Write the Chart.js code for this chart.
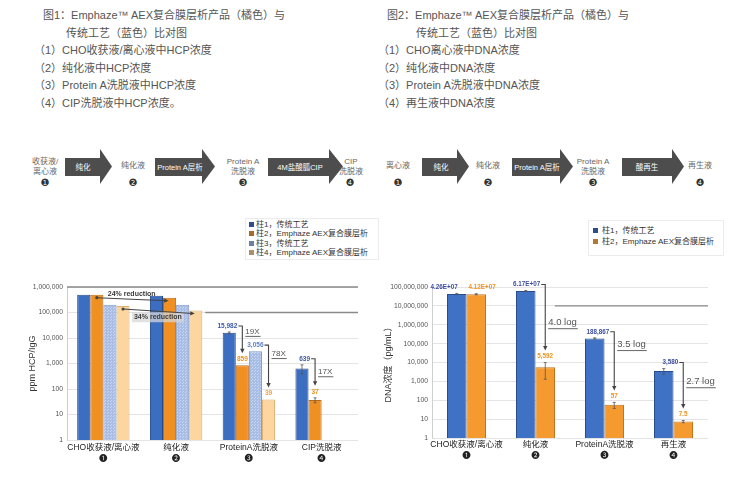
<!DOCTYPE html>
<html>
<head>
<meta charset="utf-8">
<script src="https://cdn.jsdelivr.net/npm/chart.js@4.4.1/dist/chart.umd.min.js"></script>
<style>
  body { margin: 0; width: 748px; height: 477px; background: #fff; position: relative; overflow: hidden;
         font-family: "Liberation Sans", "Noto Sans CJK SC", sans-serif; }
  .hd { position: absolute; white-space: nowrap; color: #555; font-size: 11px; line-height: 17px; }
  .fl { position: absolute; white-space: nowrap; color: #666; font-size: 8px; line-height: 10px;
        text-align: center; transform: translateX(-50%); }
  .num { position: absolute; color: #333; font-size: 10px; line-height: 12px; transform: translateX(-50%);
         font-family: "DejaVu Sans", sans-serif; }
  .legend { position: absolute; border: 1px solid #ececec; background: #fff; font-size: 8px; color: #333; }
  .legend div { white-space: nowrap; position: relative; padding-left: 7px; }
  .legend span { position: absolute; left: 0; top: 50%; width: 5px; height: 5px; margin-top: -2.5px; }
  .box { position: absolute; }
</style>
</head>
<body>

<div class="hd" style="left:43px;top:7px">图1：Emphaze™ AEX复合膜层析产品（橘色）与</div>
<div class="hd" style="left:66px;top:24.5px">传统工艺（蓝色）比对图</div>
<div class="hd" style="left:34px;top:42px">（1）CHO收获液/离心液中HCP浓度</div>
<div class="hd" style="left:34px;top:59.5px">（2）纯化液中HCP浓度</div>
<div class="hd" style="left:34px;top:77px">（3）Protein A洗脱液中HCP浓度</div>
<div class="hd" style="left:34px;top:94.5px">（4）CIP洗脱液中HCP浓度。</div>

<div class="hd" style="left:387px;top:7px">图2：Emphaze™ AEX复合膜层析产品（橘色）与</div>
<div class="hd" style="left:416px;top:24.5px">传统工艺（蓝色）比对图</div>
<div class="hd" style="left:378px;top:42px">（1）CHO离心液中DNA浓度</div>
<div class="hd" style="left:378px;top:59.5px">（2）纯化液中DNA浓度</div>
<div class="hd" style="left:378px;top:77px">（3）Protein A洗脱液中DNA浓度</div>
<div class="hd" style="left:378px;top:94.5px">（4）再生液中DNA浓度</div>

<svg width="748" height="200" style="position:absolute;left:0;top:0"
     font-family="Liberation Sans, Noto Sans CJK SC, sans-serif" font-size="7.5" fill="#fff" text-anchor="middle">
  <g fill="#4d4d4d">
    <polygon points="65,158 100,158 100,149 112,166.5 100,184 100,176 65,176"/>
    <polygon points="155,158 202,158 202,149 215,166.5 202,184 202,176 155,176"/>
    <polygon points="268,158 329,158 329,149 343,166.5 329,184 329,176 268,176"/>
    <polygon points="422,158 457,158 457,149 469,166.5 457,184 457,176 422,176"/>
    <polygon points="512,158 560,158 560,149 573,166.5 560,184 560,176 512,176"/>
    <polygon points="622,158 672,158 672,149 684,166.5 672,184 672,176 622,176"/>
  </g>
  <text x="83" y="170">纯化</text>
  <text x="180" y="170">Protein A层析</text>
  <text x="300" y="170">4M盐酸胍CIP</text>
  <text x="441" y="170">纯化</text>
  <text x="537" y="170">Protein A层析</text>
  <text x="647" y="170">酸再生</text>
</svg>

<div class="fl" style="left:45px;top:157px">收获液/<br>离心液</div>
<div class="fl" style="left:133px;top:161px">纯化液</div>
<div class="fl" style="left:243px;top:157px">Protein A<br>洗脱液</div>
<div class="fl" style="left:351px;top:157px">CIP<br>洗脱液</div>
<div class="num" style="left:45px;top:177px">❶</div>
<div class="num" style="left:133px;top:177px">❷</div>
<div class="num" style="left:243px;top:177px">❸</div>
<div class="num" style="left:350px;top:177px">❹</div>

<div class="fl" style="left:398px;top:161px">离心液</div>
<div class="fl" style="left:488px;top:161px">纯化液</div>
<div class="fl" style="left:593px;top:157px">Protein A<br>洗脱液</div>
<div class="fl" style="left:700px;top:161px">再生液</div>
<div class="num" style="left:398px;top:177px">❶</div>
<div class="num" style="left:488px;top:177px">❷</div>
<div class="num" style="left:593px;top:177px">❸</div>
<div class="num" style="left:700px;top:177px">❹</div>

<div class="legend" style="left:245px;top:218px;width:132px;height:39px;line-height:9.3px;padding-top:1px">
  <div style="left:3px"><span style="background:#2c4f8a"></span>柱1，传统工艺</div>
  <div style="left:3px"><span style="background:#a8692b"></span>柱2，Emphaze AEX复合膜层析</div>
  <div style="left:3px"><span style="background:#6b7f9e"></span>柱3，传统工艺</div>
  <div style="left:3px"><span style="background:#a8916c"></span>柱4，Emphaze AEX复合膜层析</div>
</div>
<div class="legend" style="left:588px;top:220px;width:134px;height:30px;line-height:11px;padding-top:4px">
  <div style="left:4px;padding-left:9px"><span style="background:#2c4f8a"></span>柱1，传统工艺</div>
  <div style="left:4px;padding-left:9px"><span style="background:#b07a35"></span>柱2，Emphaze AEX复合膜层析</div>
</div>

<div class="box" style="left:15px;top:277px;width:350px;height:193px"><canvas id="hcp"></canvas></div>
<div class="box" style="left:372px;top:277px;width:373px;height:193px"><canvas id="dna"></canvas></div>

<script>
// Figure 1: HCP, ppm HCP/IgG
const hcpCats = [['CHO收获液/离心液', '❶'], ['纯化液', '❷'], ['ProteinA洗脱液', '❸'], ['CIP洗脱液', '❹']];
const hcpCol1 = [500000, 450000, 15982, 639];
const hcpCol2 = [500000, 380000, 859, 37];
const hcpCol3 = [200000, 200000, 3056, null];
const hcpCol4 = [180000, 120000, 39, null];
const hcpErr1 = [0, 0, 1200, 250];
const hcpErr2 = [0, 0, 0, 8];
const hcpTicks = [1, 10, 100, 1000, 10000, 100000, 1000000];

// Figure 2: DNA, pg/mL
const dnaCats = [['CHO收获液/离心液', '❶'], ['纯化液', '❷'], ['ProteinA洗脱液', '❸'], ['再生液', '❹']];
const dnaCol1 = [42600000, 61700000, 188867, 3580];
const dnaCol2 = [41200000, 5592, 57, 7.5];
const dnaErr1 = [3000000, 4000000, 15000, 1200];
const dnaErr2 = [3000000, 4300, 20, 1];
const dnaTicks = [1, 10, 100, 1000, 10000, 100000, 1000000, 10000000, 100000000];

const FONT = '"Liberation Sans", "Noto Sans CJK SC", sans-serif';
Chart.defaults.font.family = FONT;

function fmt(v) {
  if (v >= 1e7) return v.toExponential(2).toUpperCase().replace(/E\+(\d)$/, 'E+0$1');
  return v.toLocaleString('en-US');
}

function dotPattern(base, dot) {
  const c = document.createElement('canvas');
  c.width = c.height = 3;
  const g = c.getContext('2d');
  g.fillStyle = base;
  g.fillRect(0, 0, 3, 3);
  g.fillStyle = dot;
  g.fillRect(0, 0, 1, 1);
  g.fillRect(2, 1, 1, 1);
  return g.createPattern(c, 'repeat');
}

/**
 * Error bars, value labels, fold-change arrows and the extra notes, all placed from the bar elements.
 */
function makeMarks(cfg) {
  const arrowHead = (ctx, x, y, ang, s) => {
    ctx.beginPath();
    ctx.moveTo(x, y);
    ctx.lineTo(x - s * Math.cos(ang - 0.45), y - s * Math.sin(ang - 0.45));
    ctx.lineTo(x - s * Math.cos(ang + 0.45), y - s * Math.sin(ang + 0.45));
    ctx.closePath();
    ctx.fill();
  };
  return {
    id: 'marks',
    beforeDatasetsDraw(chart) {
      const ctx = chart.ctx, xs = chart.scales.x, ys = chart.scales.y;
      ctx.save();
      ctx.strokeStyle = '#8a8a8a';
      ctx.lineWidth = 1.3;
      cfg.rules.forEach(r => {
        const yy = ys.getPixelForValue(r.v);
        ctx.beginPath();
        ctx.moveTo(r.from == null ? chart.chartArea.left : xs.getPixelForValue(r.from), yy);
        ctx.lineTo(chart.chartArea.right, yy);
        ctx.stroke();
      });
      ctx.restore();
    },
    afterDatasetsDraw(chart) {
      const ctx = chart.ctx, ys = chart.scales.y;
      const bar = (ds, cat) => chart.getDatasetMeta(ds).data[cat];
      const val = (ds, cat) => chart.data.datasets[ds].data[cat];
      const err = (ds, cat) => (cfg.errs[ds] || [])[cat] || 0;
      const labelY = (ds, cat) => Math.min(bar(ds, cat).y, ys.getPixelForValue(val(ds, cat) + err(ds, cat))) - 6;
      ctx.save();

      // error bars
      cfg.errs.forEach((list, ds) => list.forEach((e, cat) => {
        const v = val(ds, cat);
        if (!e || v == null) return;
        const b = bar(ds, cat);
        const t = ys.getPixelForValue(v + e), bt = ys.getPixelForValue(Math.max(v - e, 1));
        ctx.strokeStyle = '#555';
        ctx.lineWidth = 0.8;
        ctx.beginPath();
        ctx.moveTo(b.x, t); ctx.lineTo(b.x, bt);
        ctx.moveTo(b.x - 1.5, t); ctx.lineTo(b.x + 1.5, t);
        ctx.moveTo(b.x - 1.5, bt); ctx.lineTo(b.x + 1.5, bt);
        ctx.stroke();
      }));

      ctx.font = 'bold ' + cfg.valueSize + 'px ' + FONT;
      ctx.textBaseline = 'middle';

      // plain value labels; in a group without arrows the two labels are pushed apart
      const foldFrom = new Set(cfg.folds.map(f => f.from + ':' + f.cat));
      const foldCats = new Set(cfg.folds.map(f => f.cat));
      cfg.labelCats.forEach(cat => chart.data.datasets.forEach((d, ds) => {
        if (val(ds, cat) == null || foldFrom.has(ds + ':' + cat)) return;
        const b = bar(ds, cat);
        ctx.fillStyle = cfg.labelColors[ds];
        if (!foldCats.has(cat) && ds === 0) {
          ctx.textAlign = 'right';
          ctx.fillText(fmt(val(ds, cat)), b.x + 1, labelY(ds, cat));
        } else if (!foldCats.has(cat) && ds === 1) {
          ctx.textAlign = 'left';
          ctx.fillText(fmt(val(ds, cat)), b.x - b.width / 2 + 2, labelY(ds, cat));
        } else {
          ctx.textAlign = 'center';
          ctx.fillText(fmt(val(ds, cat)), b.x, labelY(ds, cat));
        }
      }));

      // fold-change connectors
      cfg.folds.forEach(f => {
        const vx = bar(f.to, f.cat).x;
        const sy = labelY(f.from, f.cat);
        const tip = labelY(f.to, f.cat) - 6;
        ctx.font = 'bold ' + cfg.valueSize + 'px ' + FONT;
        ctx.fillStyle = cfg.labelColors[f.from];
        ctx.textAlign = 'right';
        ctx.fillText(fmt(val(f.from, f.cat)), vx - 5, sy);
        ctx.strokeStyle = '#444';
        ctx.fillStyle = '#444';
        ctx.lineWidth = 1.1;
        ctx.beginPath();
        ctx.moveTo(vx - 4, sy); ctx.lineTo(vx, sy); ctx.lineTo(vx, tip - 3);
        ctx.stroke();
        arrowHead(ctx, vx, tip, Math.PI / 2, 5);
        const fy = sy + (tip - sy) * f.at;
        ctx.font = cfg.foldSize + 'px ' + FONT;
        ctx.fillStyle = '#555';
        ctx.textAlign = 'left';
        ctx.fillText(f.text, vx + 3, fy);
        const w = ctx.measureText(f.text).width;
        ctx.strokeStyle = '#555';
        ctx.lineWidth = 0.9;
        ctx.beginPath();
        ctx.moveTo(vx + 3, fy + cfg.foldSize * 0.62);
        ctx.lineTo(vx + 3 + w + 1, fy + cfg.foldSize * 0.62);
        ctx.stroke();
      });

      // reduction arrows between first two groups
      cfg.reductions.forEach(r => {
        const a = bar(r.ds, 0), b = bar(r.ds, 1);
        const x0 = a.x, y0 = a.y + 3, x1 = b.x - 3, y1 = b.y + 3;
        ctx.font = 'bold 7px ' + FONT;
        ctx.textAlign = 'center';
        const mx = (x0 + x1) / 2, my = (y0 + y1) / 2 + r.dy;
        const w = ctx.measureText(r.text).width;
        if (r.box) {
          ctx.fillStyle = 'rgba(215,215,215,0.75)';
          ctx.fillRect(mx - w / 2 - 2, my - 5, w + 4, 10);
        }
        ctx.strokeStyle = '#444';
        ctx.fillStyle = '#444';
        ctx.lineWidth = 1.1;
        ctx.beginPath();
        ctx.moveTo(x0, y0); ctx.lineTo(x1, y1);
        ctx.stroke();
        ctx.beginPath();
        ctx.arc(x0, y0, 1.6, 0, Math.PI * 2);
        ctx.fill();
        arrowHead(ctx, x1 + 2, y1 + (y1 - y0) * 2 / (x1 - x0), Math.atan2(y1 - y0, x1 - x0), 5);
        ctx.fillStyle = '#3a3a3a';
        ctx.fillText(r.text, mx, my);
      });
      ctx.restore();
    }
  };
}

function decades(list) {
  return scale => { scale.ticks = list.map(v => ({ value: v })); };
}

function barSet(label, data, fill, border, pct) {
  return { label, data, backgroundColor: fill, borderColor: border, borderWidth: 1,
           categoryPercentage: pct, barPercentage: 1 };
}

function axes(ticks, max, title, yWidth, xHeight, xPad) {
  return {
    x: {
      grid: { display: false, drawTicks: false },
      border: { display: false },
      ticks: { padding: xPad, color: '#222', font: { size: 8.5 }, maxRotation: 0, autoSkip: false },
      afterFit: s => { s.height = xHeight; }
    },
    y: {
      type: 'logarithmic', min: 1, max: max,
      afterBuildTicks: decades(ticks),
      ticks: { callback: v => v.toLocaleString('en-US'), color: '#555', font: { size: 6.8 }, padding: 4 },
      grid: { color: '#dddddd', drawTicks: false, lineWidth: 0.8 },
      border: { color: '#cfcfcf' },
      title: { display: true, text: title, color: '#333', font: { size: 9 } },
      afterFit: s => { s.width = yWidth; }
    }
  };
}

new Chart(document.getElementById('hcp'), {
  type: 'bar',
  data: {
    labels: hcpCats,
    datasets: [
      barSet('柱1，传统工艺', hcpCol1, '#3b6ec0', '#27498a', 0.72),
      barSet('柱2，Emphaze AEX复合膜层析', hcpCol2, '#f08f22', '#b86a18', 0.72),
      barSet('柱3，传统工艺', hcpCol3, dotPattern('#a8bde6', '#cbd8f0'), '#7f98c8', 0.72),
      barSet('柱4，Emphaze AEX复合膜层析', hcpCol4, '#fcd59f', '#dcae70', 0.72)
    ]
  },
  options: {
    responsive: true, maintainAspectRatio: false, animation: false,
    layout: { padding: { left: 8, top: 10, right: 7, bottom: 0 } },
    plugins: { legend: { display: false }, tooltip: { enabled: false } },
    scales: axes(hcpTicks, 1e6, 'ppm HCP/IgG', 44, 30, 3)
  },
  plugins: [makeMarks({
    errs: [hcpErr1, hcpErr2],
    labelCats: [2, 3],
    labelColors: ['#3d5aa8', '#f0901e', '#5f82c8', '#f2a040'],
    valueSize: 6.5,
    foldSize: 8,
    folds: [
      { cat: 2, from: 0, to: 1, text: '19X', at: 0.2 },
      { cat: 2, from: 2, to: 3, text: '78X', at: 0.2 },
      { cat: 3, from: 0, to: 1, text: '17X', at: 0.48 }
    ],
    reductions: [
      { ds: 1, text: '24% reduction', dy: -5, box: false },
      { ds: 3, text: '34% reduction', dy: 6, box: true }
    ],
    rules: [{ v: 1e6, from: null }, { v: 1e5, from: 1.4 }]
  })]
});

new Chart(document.getElementById('dna'), {
  type: 'bar',
  data: {
    labels: dnaCats,
    datasets: [
      barSet('柱1，传统工艺', dnaCol1, '#3f72c4', '#284d8e', 0.565),
      barSet('柱2，Emphaze AEX复合膜层析', dnaCol2, '#f59a2f', '#c0741c', 0.565)
    ]
  },
  options: {
    responsive: true, maintainAspectRatio: false, animation: false,
    layout: { padding: { left: 7, top: 10, right: 37, bottom: 0 } },
    plugins: { legend: { display: false }, tooltip: { enabled: false } },
    scales: axes(dnaTicks, 1e8, 'DNA浓度（pg/mL）', 53, 32, 2)
  },
  plugins: [makeMarks({
    errs: [dnaErr1, dnaErr2],
    labelCats: [0, 1, 2, 3],
    labelColors: ['#3d4fa0', '#f0901e'],
    valueSize: 6.3,
    foldSize: 9.5,
    folds: [
      { cat: 1, from: 0, to: 1, text: '4.0 log', at: 0.58 },
      { cat: 2, from: 0, to: 1, text: '3.5 log', at: 0.22 },
      { cat: 3, from: 0, to: 1, text: '2.7 log', at: 0.42 }
    ],
    reductions: [],
    rules: [{ v: 1e7, from: 1.28 }]
  })]
});
</script>
</body>
</html>
